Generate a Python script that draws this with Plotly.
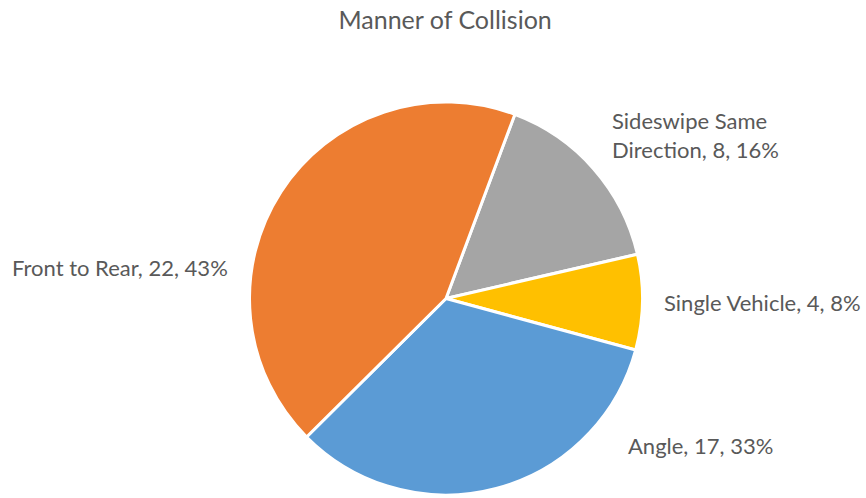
import plotly.graph_objects as go

# data, in clockwise order from the top
labels = ["Sideswipe Same Direction", "Single Vehicle", "Angle", "Front to Rear"]
values = [8, 4, 17, 22]
colors = ["#A5A5A5", "#FFC000", "#5B9BD5", "#ED7D31"]

# where the data labels sit (paper coords, left-anchored)
label_pos = [(0.704, 0.729), (0.764, 0.392), (0.723, 0.106), (0.012, 0.462)]
label_break = {"Sideswipe Same Direction": "Sideswipe Same<br>Direction"}

total = sum(values)
W, H = 866, 498

fig = go.Figure()
fig.add_trace(go.Pie(
    labels=labels,
    values=values,
    sort=False,
    direction="clockwise",
    rotation=20.5,
    marker=dict(colors=colors, line=dict(color="white", width=3)),
    textinfo="none",
    hoverinfo="label+value+percent",
    showlegend=False,
    domain=dict(x=[249 / W, 643 / W], y=[3 / H, 1 - 102 / H]),
))

for lab, val, (x, y) in zip(labels, values, label_pos):
    name = label_break.get(lab, lab)
    fig.add_annotation(
        x=x, y=y, xref="paper", yref="paper",
        xanchor="left", yanchor="middle", align="left",
        text=f"{name}, {val}, {round(100 * val / total)}%",
        showarrow=False,
        font=dict(size=22, color="#595959"),
    )

fig.update_layout(
    width=W, height=H,
    margin=dict(l=0, r=0, t=0, b=0),
    paper_bgcolor="white",
    font=dict(family="Lato, Open Sans, sans-serif", color="#595959"),
    title=dict(text="Manner of Collision", x=0.514, xanchor="center",
               y=1 - 20 / H, yanchor="middle",
               font=dict(size=25, color="#595959")),
)

# drop the default page margin so the figure sits at the window's corner
fig.write_html("out.html", config={"displayModeBar": False},
               post_script="document.body.style.margin='0';")
